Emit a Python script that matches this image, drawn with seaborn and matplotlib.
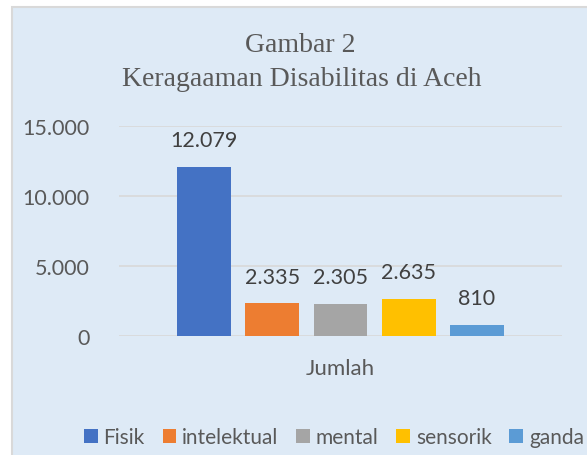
import matplotlib
matplotlib.use("Agg")
import matplotlib.pyplot as plt
import seaborn as sns
import pandas as pd
from matplotlib.patches import Rectangle
from matplotlib.ticker import FuncFormatter, MultipleLocator

categories = ["Fisik", "intelektual", "mental", "sensorik", "ganda"]
values = [12079, 2335, 2305, 2635, 810]
group = ["Jumlah"] * 5
colors = ["#4472C4", "#ED7D31", "#A5A5A5", "#FFC000", "#5B9BD5"]
title_lines = ["Gambar 2", "Keragaaman Disabilitas di Aceh"]

df = pd.DataFrame({"group": group, "kategori": categories, "nilai": values})

sns.set_style("white")
plt.rcParams["font.family"] = ["Lato", "DejaVu Sans"]

W, H = 587, 456
fig = plt.figure(figsize=(W / 100, H / 100), dpi=100)
fig.patch.set_facecolor("white")
bg = "#DEEAF6"
fig.patches.append(Rectangle((12 / W, -0.1), 1.2, (H - 8) / H + 0.1, transform=fig.transFigure,
                             facecolor=bg, edgecolor="#D9D9D9", linewidth=1.5, zorder=-10))

ax = fig.add_axes([119 / W, 1 - 337 / H, (562 - 119) / W, (337 - 127) / H])
ax.set_facecolor("none")
ax.set_zorder(5)

sns.barplot(data=df, x="group", y="nilai", hue="kategori", hue_order=categories,
            palette=colors, width=0.77, gap=0.21, saturation=1, linewidth=0,
            ax=ax, legend=True)

ax.set_ylim(0, 15000)
ax.set_xlim(-0.5, 0.5)
ax.yaxis.set_major_locator(MultipleLocator(5000))
ax.yaxis.set_major_formatter(FuncFormatter(lambda v, p: f"{int(v):,}".replace(",", ".")))
ax.grid(axis="y", color="#D9D9D9", linewidth=1.2)
ax.set_axisbelow(True)
for s in ax.spines.values():
    s.set_visible(False)
ax.tick_params(axis="y", length=0, labelsize=15.5, labelcolor="#595959", pad=21)
ax.tick_params(axis="x", length=0, labelsize=16, labelcolor="#595959", pad=16)
ax.set_xlabel("")
ax.set_ylabel("")

for cont in ax.containers:
    ax.bar_label(cont, labels=[f"{int(v):,}".replace(",", ".") for v in cont.datavalues],
                 padding=12, fontsize=15.5, color="#404040")

fig.text(300 / W, 1 - 46 / H, title_lines[0], ha="center", va="center",
         family="Liberation Serif", fontsize=20, color="#595959")
fig.text(302 / W, 1 - 80 / H, title_lines[1], ha="center", va="center",
         family="Liberation Serif", fontsize=20, color="#595959")

handles, labels = ax.get_legend_handles_labels()
ax.get_legend().remove()
fig.legend(handles, labels, loc="center left", bbox_to_anchor=(84 / W, 1 - 438 / H),
           ncol=5, frameon=False, fontsize=15, labelcolor="#595959",
           handlelength=0.66, handleheight=0.66, handletextpad=0.28, columnspacing=0.85,
           borderaxespad=0, borderpad=0)

fig.savefig("out.png", dpi=100, facecolor="white")
